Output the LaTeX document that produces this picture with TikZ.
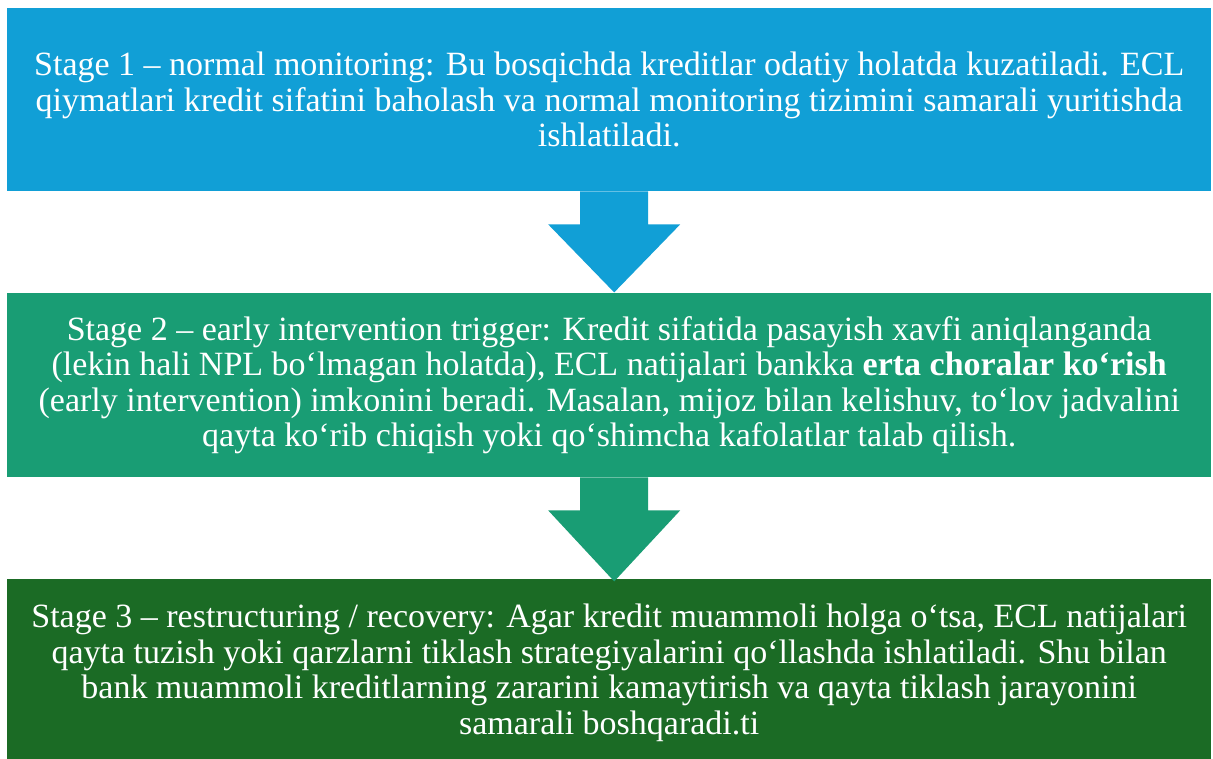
\documentclass[tikz,border=0pt]{standalone}
\usepackage{fontspec}
\setmainfont{Liberation Serif}
\usetikzlibrary{calc}
\definecolor{cone}{RGB}{17,159,214}
\definecolor{ctwo}{RGB}{25,157,116}
\definecolor{cthree}{RGB}{27,107,37}
\tikzset{
  stagebox/.style={anchor=north west, minimum width=1204pt, inner sep=0pt, text=white,
    align=center, font=\fontsize{34}{35.5}\selectfont}
}
\begin{document}
\begin{tikzpicture}[x=1pt,y=-1pt]
\useasboundingbox (0,0) rectangle (1213,758);
\fill[white] (0,0) rectangle (1213,758);
\node[stagebox, fill=cone, minimum height=183pt] (s1) at (7,8)
 {Stage 1 – normal monitoring: Bu bosqichda kreditlar odatiy holatda kuzatiladi. ECL\\
  qiymatlari kredit sifatini baholash va normal monitoring tizimini samarali yuritishda\\
  ishlatiladi.};
\node[stagebox, fill=ctwo, minimum height=184pt] (s2) at (7,293)
 {Stage 2 – early intervention trigger: Kredit sifatida pasayish xavfi aniqlanganda\\
  (lekin hali NPL bo‘lmagan holatda), ECL natijalari bankka \textbf{erta choralar ko‘rish}\\
  (early intervention) imkonini beradi. Masalan, mijoz bilan kelishuv, to‘lov jadvalini\\
  qayta ko‘rib chiqish yoki qo‘shimcha kafolatlar talab qilish.};
\node[stagebox, fill=cthree, minimum height=187pt] (s3) at (7,579)
 {Stage 3 – restructuring / recovery: Agar kredit muammoli holga o‘tsa, ECL natijalari\\
  qayta tuzish yoki qarzlarni tiklash strategiyalarini qo‘llashda ishlatiladi. Shu bilan\\
  bank muammoli kreditlarning zararini kamaytirish va qayta tiklash jarayonini\\
  samarali boshqaradi.ti};
% arrows
\coordinate (a1) at ($(s1.south)+(5,0)$);
\coordinate (a2) at ($(s2.south)+(5,0)$);
\fill[cone] ($(a1)+(-34,0)$) -- ($(a1)+(34,0)$) -- ($(a1)+(34,33)$) -- ($(a1)+(66,33)$)
  -- ($(a1)+(0,101)$) -- ($(a1)+(-66,33)$) -- ($(a1)+(-34,33)$) -- cycle;
\fill[ctwo] ($(a2)+(-34,0)$) -- ($(a2)+(34,0)$) -- ($(a2)+(34,33)$) -- ($(a2)+(66,33)$)
  -- ($(a2)+(0,104)$) -- ($(a2)+(-66,33)$) -- ($(a2)+(-34,33)$) -- cycle;
\end{tikzpicture}
\end{document}
